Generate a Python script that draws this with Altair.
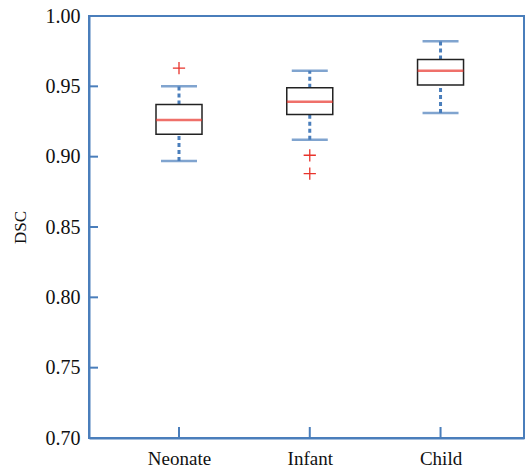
import altair as alt
import pandas as pd

groups = ["Neonate", "Infant", "Child"]
positions = [1, 2, 3]
lower_whisker = [0.897, 0.912, 0.931]
q1 = [0.916, 0.930, 0.951]
median = [0.926, 0.939, 0.961]
q3 = [0.937, 0.949, 0.969]
upper_whisker = [0.950, 0.961, 0.982]
outlier_group = ["Neonate", "Infant", "Infant"]
outlier_value = [0.963, 0.901, 0.888]
y_ticks = [0.70, 0.75, 0.80, 0.85, 0.90, 0.95, 1.00]

box = pd.DataFrame({"group": groups, "pos": positions, "lo": lower_whisker, "q1": q1,
                    "med": median, "q3": q3, "hi": upper_whisker})
pos_map = dict(zip(groups, positions))
outl = pd.DataFrame({"group": outlier_group, "pos": [pos_map[g] for g in outlier_group],
                     "v": outlier_value})
yt = pd.DataFrame({"v": y_ticks[1:-1]})

BLUE = "#4a7ebb"
RED = "#e8332b"
FONT = "Liberation Serif"

xscale = alt.Scale(domain=[0.35, 3.6], nice=False, zero=False)
yscale = alt.Scale(domain=[0.70, 1.00], nice=False, zero=False)

label_expr = "datum.value == 1 ? 'Neonate' : datum.value == 2 ? 'Infant' : 'Child'"

x_enc = alt.X("pos:Q", scale=xscale,
              axis=alt.Axis(values=positions, labelExpr=label_expr, title=None, grid=False,
                            tickSize=0, domainColor=BLUE, domainWidth=2,
                            labelFont=FONT, labelFontSize=19, labelColor="#111",
                            labelPadding=11))
y_axis = alt.Axis(values=y_ticks, format=".2f", title="DSC", grid=False, tickSize=0,
                  domainColor=BLUE, domainWidth=2, labelFont=FONT, labelFontSize=20,
                  labelColor="#111", labelPadding=9, titleFont=FONT, titleFontSize=17,
                  titleFontWeight="normal", titleColor="#111", titlePadding=16)

base = alt.Chart(box)

whisk_lo = base.mark_rule(color=BLUE, strokeWidth=3, strokeDash=[4, 3]).encode(
    x=x_enc, y=alt.Y("lo:Q", scale=yscale, axis=y_axis), y2="q1:Q")
whisk_hi = base.mark_rule(color=BLUE, strokeWidth=3, strokeDash=[4, 3]).encode(
    x="pos:Q", y="q3:Q", y2="hi:Q")
cap_lo = base.mark_tick(color=BLUE, orient="horizontal", size=36, thickness=2.5).encode(
    x="pos:Q", y="lo:Q")
cap_hi = base.mark_tick(color=BLUE, orient="horizontal", size=36, thickness=2.5).encode(
    x="pos:Q", y="hi:Q")
boxes = base.mark_bar(size=46, orient="vertical", fill="white", stroke="#222",
                      strokeWidth=1.5).encode(x="pos:Q", y="q1:Q", y2="q3:Q")
med = base.mark_tick(color=RED, orient="horizontal", size=46, thickness=2.5).encode(
    x="pos:Q", y="med:Q")
outs = alt.Chart(outl).mark_point(shape="M-1,0L1,0M0,-1L0,1", filled=False, color=RED,
                                  size=150, strokeWidth=1.3, opacity=1).encode(
    x="pos:Q", y="v:Q")
ytick_marks = alt.Chart(yt).mark_rule(color=BLUE, strokeWidth=2).encode(
    x=alt.value(0), x2=alt.value(9), y=alt.Y("v:Q", scale=yscale))
xtick_marks = base.mark_rule(color=BLUE, strokeWidth=2).encode(
    x=alt.X("pos:Q", scale=xscale), y=alt.value(422), y2=alt.value(411))

chart = alt.layer(whisk_lo, whisk_hi, cap_lo, cap_hi, boxes, med, outs, ytick_marks,
                  xtick_marks).properties(
    width=435, height=422,
    autosize=alt.AutoSizeParams(type="none"),
    padding={"left": 89, "top": 16, "right": 5, "bottom": 35},
    background="white",
).configure_view(stroke=BLUE, strokeWidth=2)

chart.save("out.html", embed_options={"renderer": "svg", "actions": False})
